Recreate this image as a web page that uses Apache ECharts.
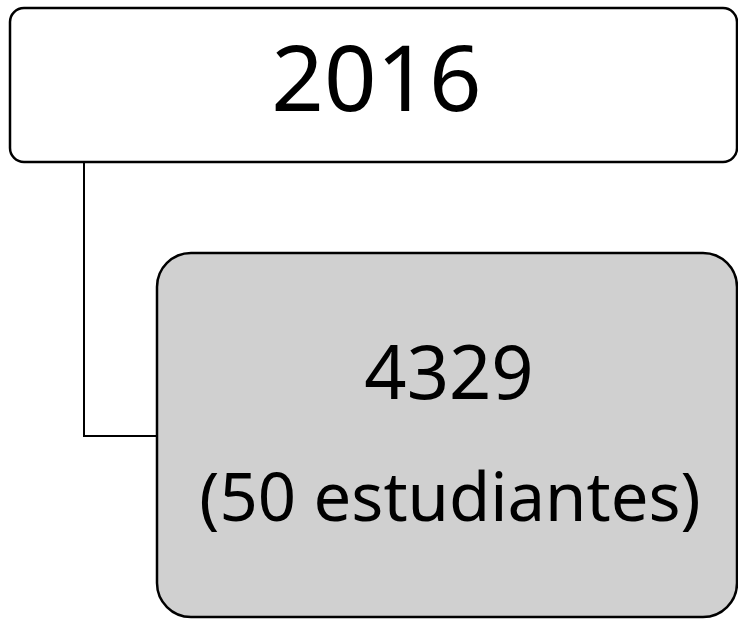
<!DOCTYPE html>
<html>
<head>
<meta charset="utf-8">
<style>
  html,body{margin:0;padding:0;background:#fff}
  #chart{width:738px;height:619px}
</style>
<script src="https://cdn.jsdelivr.net/npm/echarts@6/dist/echarts.min.js"></script>
</head>
<body>
<div id="chart"></div>
<script>
// data
let rootLabels = ["2016"]
let childLabels = ["4329", "(50 estudiantes)"]

let chart = echarts.init(document.getElementById("chart"))

// layout (px)
let topBox = {x:10, y:8, w:727, h:154, r:14}
let childBox = {x:157, y:253, w:580, h:364, r:34}
let elbowX = 84
let elbowY = 436

let elements = [
    // connector
    {
        type:"polyline",
        shape:{points:[[elbowX, topBox.y + topBox.h], [elbowX, elbowY], [childBox.x, elbowY]]},
        style:{stroke:"#000", lineWidth:2, fill:null}
    },
    // root box
    {
        type:"rect",
        shape:{x:topBox.x, y:topBox.y, width:topBox.w, height:topBox.h, r:topBox.r},
        style:{fill:"#fff", stroke:"#000", lineWidth:2.5}
    },
    {
        type:"text",
        x:topBox.x + topBox.w / 2 + 3,
        y:85,
        style:{text:rootLabels[0], font:"92px 'Noto Sans'", fill:"#000", align:"center", verticalAlign:"middle"}
    },
    // child box
    {
        type:"rect",
        shape:{x:childBox.x, y:childBox.y, width:childBox.w, height:childBox.h, r:childBox.r},
        style:{fill:"#d0d0d0", stroke:"#000", lineWidth:2.5}
    },
    {
        type:"text",
        x:childBox.x + childBox.w / 2 + 2,
        y:378,
        style:{text:childLabels[0], font:"74px 'Noto Sans'", fill:"#000", align:"center", verticalAlign:"middle"}
    },
    {
        type:"text",
        x:childBox.x + childBox.w / 2 + 3,
        y:502,
        style:{text:childLabels[1], font:"67px 'Noto Sans'", fill:"#000", align:"center", verticalAlign:"middle"}
    }
]

chart.setOption({
    animation:false,
    graphic:{elements:elements}
})
</script>
</body>
</html>
